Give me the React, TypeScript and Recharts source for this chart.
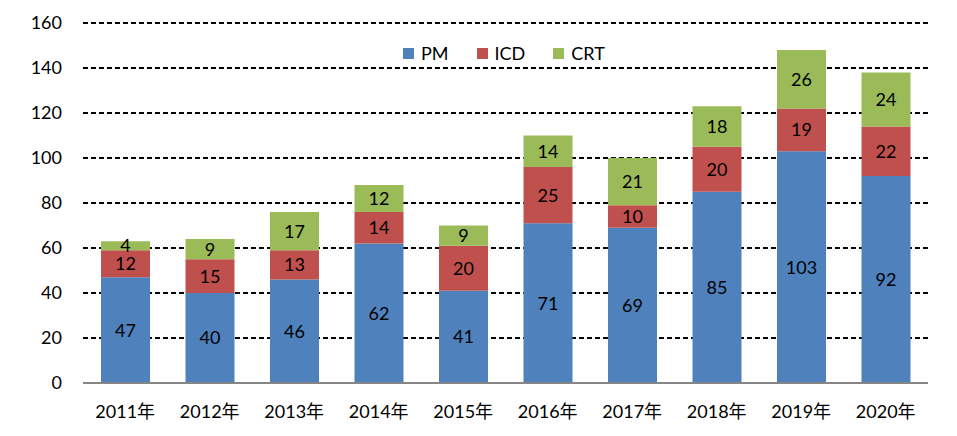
import React from 'react';
import { BarChart, Bar, XAxis, YAxis, CartesianGrid, LabelList } from 'recharts';

const years = ['2011年', '2012年', '2013年', '2014年', '2015年', '2016年', '2017年', '2018年', '2019年', '2020年'];
const pm = [47, 40, 46, 62, 41, 71, 69, 85, 103, 92];
const icd = [12, 15, 13, 14, 20, 25, 10, 20, 19, 22];
const crt = [4, 9, 17, 12, 9, 14, 21, 18, 26, 24];
const yTicks = [0, 20, 40, 60, 80, 100, 120, 140, 160];

const series = [
  { key: 'PM', color: '#4F81BD', values: pm },
  { key: 'ICD', color: '#C0504D', values: icd },
  { key: 'CRT', color: '#9BBB59', values: crt },
];

const data = years.map((y, i) => ({ year: y, PM: pm[i], ICD: icd[i], CRT: crt[i] }));

const FONT = 'Lato, "Noto Sans CJK SC", sans-serif';

export default function App() {
  return (
    <div style={{ position: 'absolute', left: 0, top: 0, width: 957, height: 436, background: '#fff', fontFamily: FONT }}>
      <BarChart width={957} height={436} data={data} margin={{ top: 23, right: 29, bottom: 0, left: 0 }}>
        <CartesianGrid vertical={false} stroke="#000" strokeWidth={2} strokeDasharray="5 3" horizontalValues={[20, 40, 60, 80, 100, 120, 140, 160]} />
        <XAxis
          dataKey="year"
          height={53}
          tickLine={false}
          axisLine={{ stroke: '#868686', strokeWidth: 2 }}
          tick={{ fill: '#000', fontSize: 18, fontFamily: FONT }}
          tickMargin={22}
          tickSize={0}
        />
        <YAxis
          width={83}
          domain={[0, 160]}
          ticks={yTicks}
          interval={0}
          tickLine={false}
          axisLine={false}
          tickSize={0}
          tickMargin={21}
          tick={{ fill: '#000', fontSize: 18, fontFamily: FONT }}
        />
        {series.map((s) => (
          <Bar key={s.key} dataKey={s.key} stackId="a" fill={s.color} barSize={49} isAnimationActive={false}>
            <LabelList dataKey={s.key} position="center" fill="#000" fontSize={18} fontFamily={FONT} />
          </Bar>
        ))}
      </BarChart>
      <div style={{ position: 'absolute', top: 42, left: 403, display: 'flex' }}>
        {series.map((s) => (
          <div key={s.key} style={{ display: 'flex', alignItems: 'center', marginRight: 28, fontSize: 18, color: '#000', lineHeight: '22px' }}>
            <span style={{ display: 'inline-block', width: 11, height: 11, background: s.color, marginRight: 7 }} />
            <span>{s.key}</span>
          </div>
        ))}
      </div>
    </div>
  );
}
